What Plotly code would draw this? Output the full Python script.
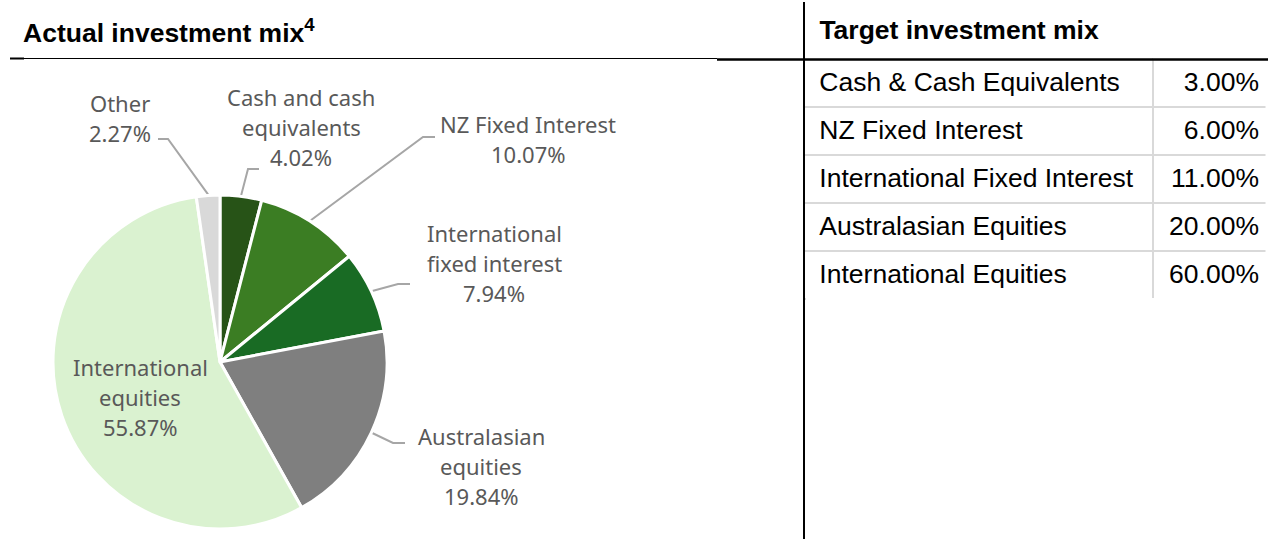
import math
import plotly.graph_objects as go

W, H = 1268, 539

# ---------------- data ----------------
actual_labels = ["Cash and cash equivalents", "NZ Fixed Interest", "International fixed interest",
                 "Australasian equities", "International equities", "Other"]
actual_display = ["Cash and cash<br>equivalents", "NZ Fixed Interest", "International<br>fixed interest",
                  "Australasian<br>equities", "International<br>equities", "Other"]
actual_values = [4.02, 10.07, 7.94, 19.84, 55.87, 2.27]
actual_colors = ["#275317", "#3B7D23", "#196B24", "#7F7F7F", "#DAF2D0", "#D9D9D9"]

target_categories = ["Cash & Cash Equivalents", "NZ Fixed Interest", "International Fixed Interest",
                     "Australasian Equities", "International Equities"]
target_values = [3.00, 6.00, 11.00, 20.00, 60.00]

# ---------------- layout constants (pixels) ----------------
CX, CY, R = 220, 362, 167
LINE_STEP = 30
# label centre, elbow point, end point of leader (None -> label inside slice)
label_layout = [
    dict(pos=(301, 126.5), elbow=(248, 169), end=(259, 169)),
    dict(pos=(528, 139), elbow=(423, 137), end=(435, 137)),
    dict(pos=(494, 263), elbow=(398, 284), end=(410, 284)),
    dict(pos=(481, 466), elbow=(393, 443), end=(405, 443)),
    dict(pos=(140, 397), elbow=None, end=None),
    dict(pos=(120, 118), elbow=(168, 139), end=(158, 139)),
]
LABEL_FONT = dict(family="Noto Sans, Open Sans, sans-serif", size=22, color="#595959")
ARIAL = "Liberation Sans, Arial, sans-serif"

fig = go.Figure()

fig.add_trace(go.Pie(
    labels=actual_labels, values=actual_values, sort=False, direction="clockwise", rotation=0,
    marker=dict(colors=actual_colors, line=dict(color="white", width=3)),
    textinfo="none", showlegend=False, hoverinfo="label+value",
    domain=dict(x=[(CX - R) / W, (CX + R) / W], y=[(H - CY - R) / H, (H - CY + R) / H]),
))

# leader lines, starting at the slice mid-angle on the rim
total = sum(actual_values)
cum = 0.0
for i, v in enumerate(actual_values):
    mid = (cum + v / 2) / total * 2 * math.pi
    cum += v
    lay = label_layout[i]
    if lay["elbow"] is None:
        continue
    sx = CX + (R + 1) * math.sin(mid)
    sy = CY - (R + 1) * math.cos(mid)
    fig.add_trace(go.Scatter(
        x=[sx, lay["elbow"][0], lay["end"][0]], y=[sy, lay["elbow"][1], lay["end"][1]],
        mode="lines", line=dict(color="#A6A6A6", width=2), showlegend=False, hoverinfo="skip",
        xaxis="x", yaxis="y"))

# slice labels (one annotation per text line for Excel-like line spacing)
for i, v in enumerate(actual_values):
    lay = label_layout[i]
    lines = actual_display[i].split("<br>") + [f"{v:.2f}%"]
    n = len(lines)
    for k, t in enumerate(lines):
        fig.add_annotation(x=lay["pos"][0], y=lay["pos"][1] + (k - (n - 1) / 2) * LINE_STEP,
                           xref="x", yref="y", text=t, showarrow=False,
                           font=LABEL_FONT, xanchor="center", yanchor="middle")

# target table (all cells wrapped in a span so they share one text-layout path)
def cell(t):
    return f"<span>{t}</span>"

fig.add_trace(go.Table(
    domain=dict(x=[804 / W, 1.0], y=[1 - 320 / H, 1 - 7 / H]),
    columnwidth=[350, 114],
    header=dict(values=["\u00a0<b>Target investment mix</b>"], align="left",
                fill_color="white", line=dict(color="white", width=0),
                font=dict(family=ARIAL, size=26.5, color="black"), height=52),
    cells=dict(values=[[cell("\u00a0" + c) for c in target_categories],
                       [cell(f"{v:.2f}%") for v in target_values]],
               align=["left", "right"], fill_color="white",
               line=dict(color="#D9D9D9", width=2),
               font=dict(family=ARIAL, size=26.5, color="black"), height=48),
))

# titles and rules
fig.add_annotation(x=21, y=31, xref="x", yref="y", text="<b>Actual investment mix<sup>4</sup></b>",
                   showarrow=False, xanchor="left", yanchor="middle",
                   font=dict(family=ARIAL, size=26.5, color="black"))
shapes = [
    # hide the table's outer bottom/right borders (reference shows none)
    dict(type="line", x0=806, x1=W, y0=300, y1=300, line=dict(color="white", width=4)),
    dict(type="line", x0=W - 1, x1=W - 1, y0=60, y1=305, line=dict(color="white", width=3)),
    dict(type="line", x0=10, x1=24, y0=58.5, y1=58.5, line=dict(color="black", width=2)),
    dict(type="line", x0=24, x1=717, y0=58.5, y1=58.5, line=dict(color="black", width=1)),
    dict(type="line", x0=717, x1=W, y0=59.5, y1=59.5, line=dict(color="black", width=2.5)),
    dict(type="line", x0=804, x1=804, y0=2, y1=H, line=dict(color="black", width=2)),
]
for s in shapes:
    fig.add_shape(xref="x", yref="y", layer="above", **s)

fig.update_layout(
    width=W, height=H, margin=dict(l=0, r=0, t=0, b=0),
    paper_bgcolor="white", plot_bgcolor="rgba(0,0,0,0)",
    xaxis=dict(range=[0, W], visible=False, fixedrange=True, domain=[0, 1]),
    yaxis=dict(range=[H, 0], visible=False, fixedrange=True, domain=[0, 1]),
    showlegend=False,
)

fig.write_html("out.html", config={"displayModeBar": False},
               post_script="document.body.style.margin='0';")
